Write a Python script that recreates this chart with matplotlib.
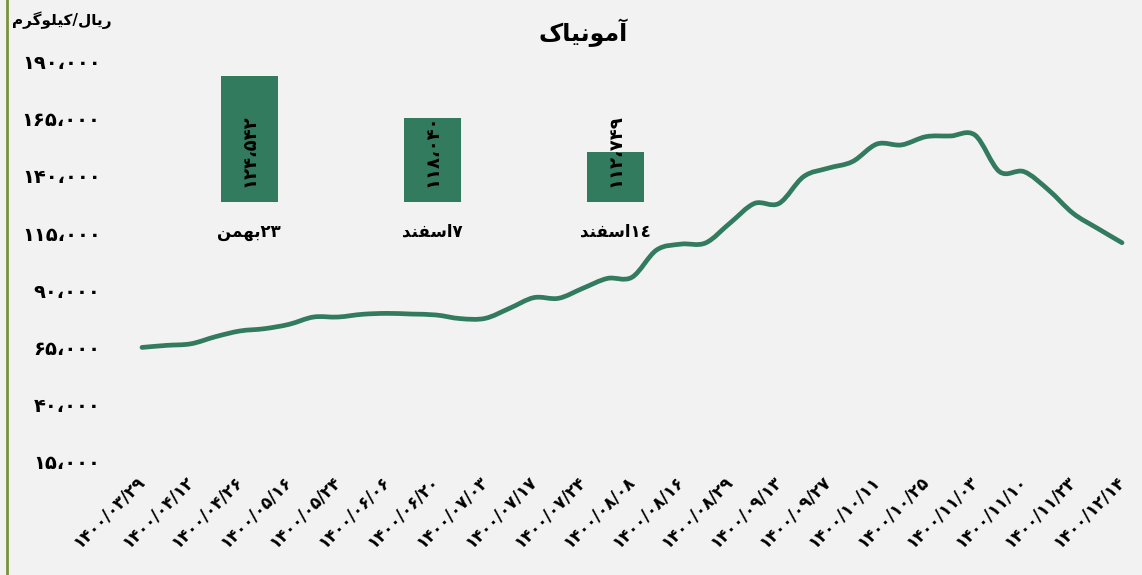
import numpy as np
import matplotlib.pyplot as plt
from matplotlib.path import Path
from matplotlib.patches import PathPatch
from matplotlib.lines import Line2D
from matplotlib.ticker import FuncFormatter
from matplotlib.transforms import blended_transform_factory

# cyfry perskie
fa = str.maketrans('0123456789', '۰۱۲۳۴۵۶۷۸۹')

# daty na osi x (co druga kategoria ma etykiete)
daty = ['1400/03/29', '1400/04/12', '1400/04/26', '1400/05/16', '1400/05/24',
        '1400/06/06', '1400/06/20', '1400/07/03', '1400/07/17', '1400/07/24',
        '1400/08/08', '1400/08/16', '1400/08/29', '1400/09/13', '1400/09/27',
        '1400/10/11', '1400/10/25', '1400/11/03', '1400/11/10', '1400/11/23',
        '1400/12/14']

# cena (ریال/کیلوگرم), 41 punktow
ceny = [65000, 65900, 66600, 69700, 72200, 73200, 75100, 78300, 78300, 79500,
        79900, 79600, 79200, 77600, 77700, 82100, 86800, 86500, 90900, 95200,
        95700, 107600, 110200, 110700, 119400, 128000, 128000, 139700, 143400, 146300,
        154000, 153600, 157200, 157500, 157900, 141900, 141900, 133900, 123700, 117100,
        110800]

# slupki - ostatnie trzy notowania
slupki_etykiety = ['\uFEE6\uFEE4\uFEEC\uFE91' + '23'.translate(fa),          # ۲۳بهمن
                   '\uFEAA\uFEE8\uFED4\uFEB3\uFE8D' + '7'.translate(fa),     # ۷اسفند
                   '\uFEAA\uFEE8\uFED4\uFEB3\uFE8D' + '\u0661\u0664']        # ١٤اسفند
slupki_wartosci = [124542, 118040, 112749]

tytul = '\uFB8E\uFE8E\uFBFF\uFEE7\uFEEE\uFEE3\uFE81'                          # آمونیاک
jednostka = '\uFEE1\uFEAE\uFB94\uFEEE\uFEE0\uFBFF\uFB90' + '/' + '\uFEDD\uFE8E\uFBFE\uFEAD'  # ریال/کیلوگرم

zielony = '#327B5F'
tlo = '#F2F2F2'
plt.rcParams['font.family'] = ['DejaVu Sans']


def liczba(v, pos=None):
    return f'{int(v):,}'.replace(',', '\u060C').translate(fa)


fig = plt.figure(figsize=(11.42, 5.75), dpi=100, facecolor=tlo)

# glowny wykres liniowy
ax = fig.add_axes([120 / 1142, 0.197, 1020 / 1142, 0.6957])
ax.set_facecolor(tlo)
x = np.arange(len(ceny))
y = np.array(ceny, dtype=float)

# wygladzona linia (krzywe Beziera jak w Excelu)
pts = np.column_stack([x, y])
ext = np.vstack([pts[0], pts, pts[-1]])
verts = [pts[0]]
codes = [Path.MOVETO]
for i in range(len(pts) - 1):
    p0, p1, p2, p3 = ext[i], ext[i + 1], ext[i + 2], ext[i + 3]
    verts += [p1 + (p2 - p0) / 6, p2 - (p3 - p1) / 6, p2]
    codes += [Path.CURVE4] * 3
ax.add_patch(PathPatch(Path(verts, codes), fill=False, edgecolor=zielony, lw=3.4,
                       capstyle='round', joinstyle='round'))

ax.set_xlim(-0.898, 40.735)
ax.set_ylim(15000, 190000)
ax.set_yticks(np.arange(15000, 190001, 25000))
ax.yaxis.set_major_formatter(FuncFormatter(liczba))
ax.set_xticks(x[::2])
ax.set_xticklabels([d.translate(fa) for d in daty])
ax.tick_params(axis='y', length=0, pad=14, labelsize=14)
ax.tick_params(axis='x', length=0, pad=12, labelsize=12)
plt.setp(ax.get_xticklabels(), rotation=45, ha='right', va='center',
         rotation_mode='anchor', fontweight='bold')
plt.setp(ax.get_yticklabels(), fontweight='bold')
for s in ax.spines.values():
    s.set_visible(False)

# wstawka ze slupkami
ax2 = fig.add_axes([157.8 / 1142, 0.6487, 549.2 / 1142, 0.2443])
ax2.patch.set_alpha(0)
ax2.bar(range(3), slupki_wartosci, width=0.314, color=zielony)
ax2.set_xlim(-0.5, 2.5)
ax2.set_ylim(105000, 126820)
ax2.set_yticks([])
ax2.set_xticks(range(3))
ax2.set_xticklabels(slupki_etykiety, fontsize=12, fontweight='bold')
ax2.tick_params(axis='x', length=0, pad=15)
for s in ax2.spines.values():
    s.set_visible(False)
tr = blended_transform_factory(ax2.transData, ax2.transAxes)
for i, v in enumerate(slupki_wartosci):
    ax2.text(i, 0.107, liczba(v), transform=tr, rotation=90, ha='center', va='bottom',
             fontsize=13, fontweight='bold')

# tytul i jednostka
fig.text(583 / 1142, 1 - 33 / 575, tytul, ha='center', va='center', fontsize=17, fontweight='bold')
fig.text(12 / 1142, 1 - 20 / 575, jednostka, ha='left', va='center', fontsize=11, fontweight='bold')

# zielona ramka z lewej
fig.add_artist(Line2D([6.5 / 1142, 6.5 / 1142], [0, 1], transform=fig.transFigure, color='#77933C', lw=2))

plt.savefig('out.png', dpi=100, facecolor=tlo)
